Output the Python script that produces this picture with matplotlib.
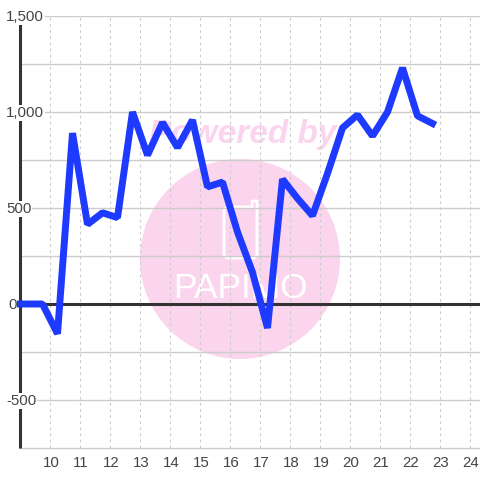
import matplotlib
matplotlib.use("Agg")
import matplotlib.pyplot as plt
from matplotlib.patches import Circle
from matplotlib.transforms import ScaledTranslation

hours = [9.0, 9.75, 10.25, 10.75, 11.25, 11.75, 12.25, 12.75, 13.25, 13.75, 14.25,
         14.75, 15.25, 15.75, 16.25, 16.75, 17.25, 17.75, 18.25, 18.75, 19.25,
         19.75, 20.25, 20.75, 21.25, 21.75, 22.25, 22.75]
values = [0, 0, -155, 890, 415, 475, 450, 1000, 775, 945, 815,
          958, 610, 635, 375, 165, -125, 650, 550, 460, 680,
          917, 985, 875, 1000, 1230, 980, 940]
x_ticks = list(range(10, 25))
y_ticks = [-500, 0, 500, 1000, 1500]
y_minor = [-250, 250, 750, 1250]

plt.rcParams["font.family"] = ["Liberation Sans", "DejaVu Sans"]
TEXT = "#444444"
GRID = "#cccccc"
AXIS = "#333333"
PINK = "#fbd5ee"

fig = plt.figure(figsize=(4.8, 4.8), dpi=100)
ax = fig.add_axes([20 / 480, 32 / 480, 460 / 480, 432 / 480])
ax.set_xlim(9, 9 + 460 / 30)
ax.set_ylim(-750, 1500)
ax.patch.set_alpha(0)

for s in ["top", "right", "left"]:
    ax.spines[s].set_visible(False)
ax.spines["bottom"].set_color(GRID)
ax.spines["bottom"].set_linewidth(1.0)

ax.set_xticks(x_ticks)
ax.set_yticks(y_ticks + y_minor)
ax.set_yticklabels([])
ax.tick_params(length=0)
ax.tick_params(axis="x", labelsize=10.8, labelcolor=TEXT, pad=6)
ax.set_axisbelow(True)
ax.grid(axis="y", color=GRID, linewidth=1.0, zorder=1)
ax.grid(axis="x", color=GRID, linewidth=0.8, linestyle=(0, (2.5, 3)), zorder=1)

# x labels sit one pixel right of the grid lines
for label in ax.get_xticklabels():
    label.set_transform(label.get_transform() + ScaledTranslation(1 / 100, 0, fig.dpi_scale_trans))

# watermark sits behind the chart, in pixel coordinates
bg = fig.add_axes([0, 0, 1, 1], zorder=-1)
bg.set_xlim(0, 480)
bg.set_ylim(480, 0)
bg.axis("off")
bg.add_patch(Circle((240, 259), 100, color=PINK, lw=0))
bg.text(243, 134, "Powered by", color=PINK, fontsize=24, weight="bold",
        style="italic", ha="center", va="center")
bg.plot([252, 252, 257, 257, 254, 227, 224, 224, 227, 252],
        [207, 201, 201, 255, 258, 258, 255, 210, 207, 207],
        color="white", lw=2.0, solid_joinstyle="round")
bg.text(240, 288, "PAPIMO", color="white", fontsize=25.5, ha="center", va="center")

# axis lines
ax.plot([9, 9], [-750, 1458], color=AXIS, lw=2.2, clip_on=False, zorder=3, solid_capstyle="butt")
ax.axhline(0, color=AXIS, lw=2.2, zorder=3)
ax.plot(hours, values, color="#1f3aff", lw=5.0, solid_joinstyle="bevel",
        solid_capstyle="projecting", clip_on=False, zorder=4)

# y labels have a white box that cuts the axis line
for v in y_ticks:
    fig.text((6 if v != 0 else 8) / 480, 1 - (17 + (1500 - v) * 96 / 500) / 480, f"{v:,}",
             fontsize=10.8, color=TEXT, va="center", ha="left", zorder=5,
             bbox=dict(fc="white", ec="none", pad=0.6))

fig.savefig("out.png", dpi=100)
